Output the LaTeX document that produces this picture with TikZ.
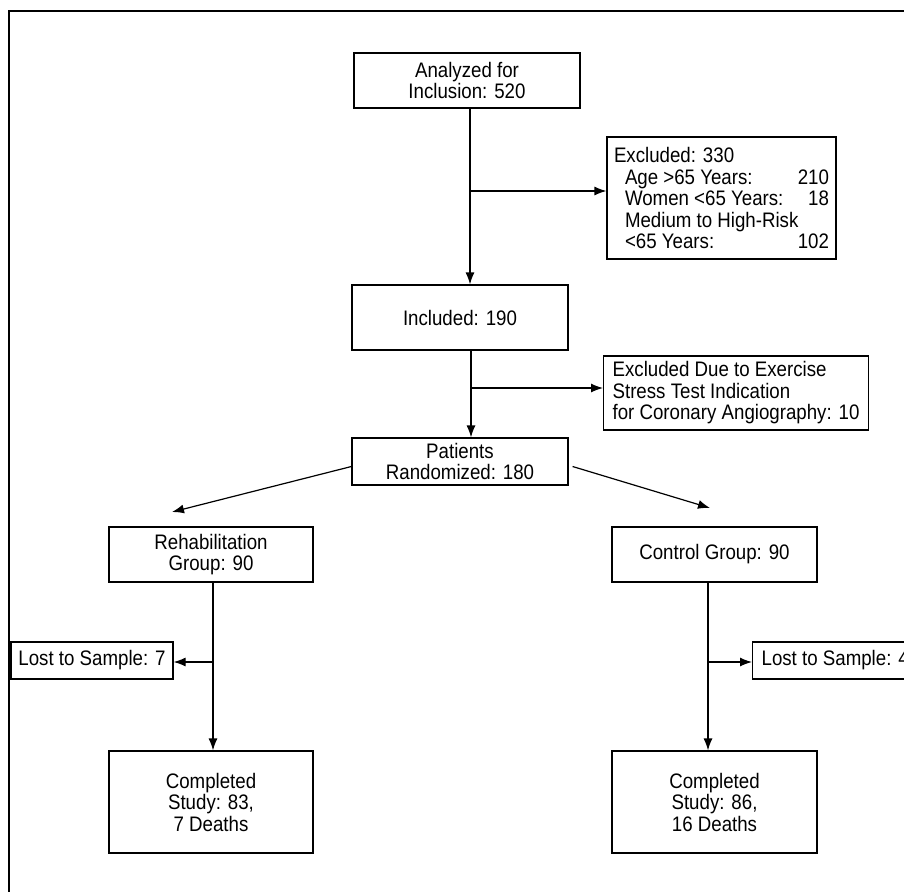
\documentclass[tikz,border=0pt]{standalone}
\usepackage{fontspec}
\setmainfont{Liberation Sans}[FakeStretch=0.89]
\usepackage{tikz}
\usetikzlibrary{calc,arrows.meta}
\setlength{\parindent}{0pt}

\tikzset{
  box/.style = {draw, line width=1.2pt, inner sep=0pt, align=center,
    font=\fontsize{21}{21.5}\selectfont},
  flow/.style = {line width=1.2pt, -{Latex[length=12pt,width=9pt]}}
}

\begin{document}
\begin{tikzpicture}[x=1pt, y=-1pt]
    \useasboundingbox (0,0) rectangle (904,891);
    \draw[line width=1.2pt] (9,900) -- (9,11) -- (915,11);

    \node[box, minimum width=226pt, minimum height=55pt] (ana) at (467, 80.5) {Analyzed for\\Inclusion: 520};
    \node[box, minimum height=122pt, inner xsep=7pt, text width=215pt, align=justify] (excl) at (721.5, 198)
      {Excluded: 330\\
       \hspace*{11pt}Age >65 Years:\hfill 210\\
       \hspace*{11pt}Women <65 Years:\hfill 18\\
       \hspace*{11pt}Medium to High-Risk\\
       \hspace*{11pt}<65 Years:\hfill 102};
    \node[box, minimum width=216pt, minimum height=65pt] (incl) at (460, 317.5) {Included: 190};
    \node[box, minimum height=74pt, inner xsep=9pt, align=left, anchor=west] (excl2) at (603, 393)
      {Excluded Due to Exercise\\Stress Test Indication\\for Coronary Angiography: 10};
    \node[box, minimum width=216pt, minimum height=47pt] (pat) at (460, 461.5) {Patients\\Randomized: 180};

    \node[box, minimum width=204pt, minimum height=55pt] (rehab) at (211, 554.5) {Rehabilitation\\Group: 90};
    \node[box, minimum width=205pt, minimum height=55pt] (ctrl) at (714.5, 554.5) {Control Group: 90};
    \node[box, minimum width=162pt, minimum height=37pt] (lostA) at (92, 660.5) {Lost to Sample: 7};
    \node[box, minimum height=37pt, inner xsep=9pt, anchor=west] (lostB) at (752, 660.5) {Lost to Sample: 4};
    \node[box, minimum width=204pt, minimum height=102pt] (compA) at (211, 802) {Completed\\Study: 83,\\7 Deaths};
    \node[box, minimum width=205pt, minimum height=102pt] (compB) at (714.5, 802) {Completed\\Study: 86,\\16 Deaths};

    \coordinate (br1) at (470, 191);
    \coordinate (br2) at (471, 388);
    \coordinate (br3) at (213, 662);
    \coordinate (br4) at (708, 662);
    \coordinate (tipA) at (172, 512);
    \coordinate (tipB) at (710, 508);

    \draw[flow] (ana.south -| br1) -- (incl.north -| br1);
    \draw[flow] (br1) -- (excl.west |- br1);
    \draw[flow] (incl.south -| br2) -- (pat.north -| br2);
    \draw[flow] (br2) -- (excl2.west |- br2);

    \draw[flow] ([yshift=-5pt]pat.west) -- (tipA);
    \draw[flow] ([yshift=-5pt,xshift=4pt]pat.east) -- (tipB);

    \draw[flow] (rehab.south -| br3) -- (compA.north -| br3);
    \draw[flow] (br3) -- (lostA.east |- br3);
    \draw[flow] (ctrl.south -| br4) -- (compB.north -| br4);
    \draw[flow] (br4) -- (lostB.west |- br4);
\end{tikzpicture}
\end{document}
